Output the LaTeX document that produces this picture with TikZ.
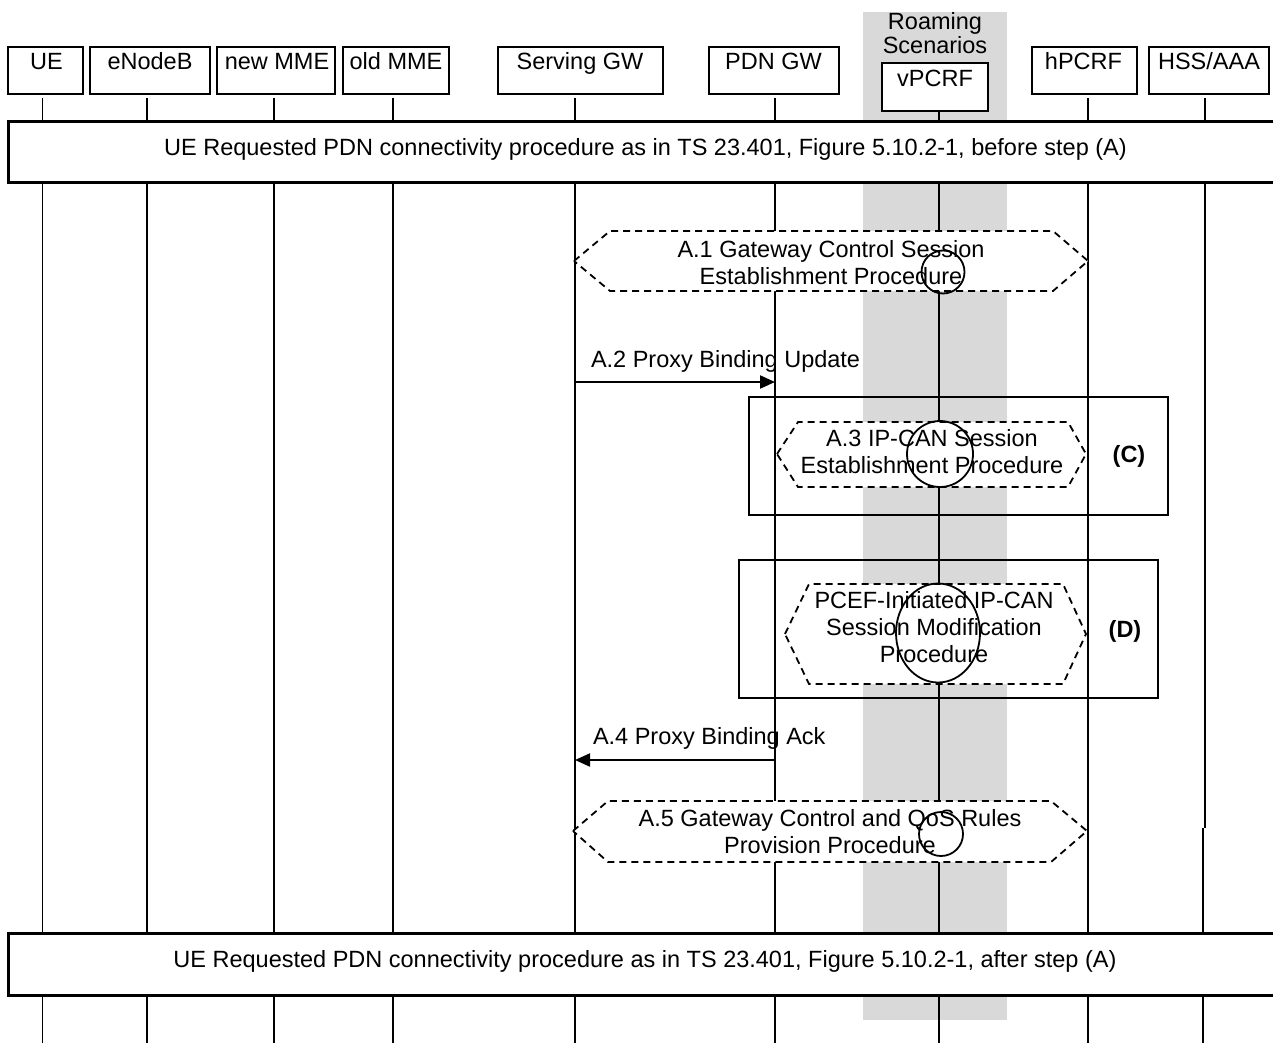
\documentclass[tikz,border=0pt]{standalone}
\usepackage{fontspec}
\setmainfont{Liberation Sans}
\usetikzlibrary{arrows.meta}
\definecolor{bandgray}{RGB}{217,217,217}

\begin{document}
\begin{tikzpicture}[x=1pt,y=-1pt,
  every node/.style={font=\fontsize{23.5}{27}\selectfont, inner sep=0pt, outer sep=0pt},
  entity/.style={draw, line width=2.5pt, fill=white},
  lifeline/.style={line width=1.2pt},
  heavyline/.style={line width=2pt},
  frame/.style={draw, line width=3pt, fill=white},
  groupbox/.style={draw, line width=1.8pt},
  proc/.style={draw, line width=1.8pt, dash pattern=on 7pt off 5pt, fill=white},
  ring/.style={draw, line width=1.8pt},
  msg/.style={line width=2.2pt, -{Triangle[length=15pt,width=13pt]}},
  boldlabel/.style={font=\fontsize{23.5}{27}\selectfont\bfseries},
]
\useasboundingbox (0,0) rectangle (1273,1043);

% shaded column for the roaming case
\fill[bandgray] (863,12) rectangle (1007,1020);

% row positions
\coordinate (bot) at (0,1043);
\coordinate (r2) at (0,382);
\coordinate (r4) at (0,760);
\coordinate (thk) at (0,828);
\coordinate (fb) at (0,933);

% lifelines
\coordinate (ue-l) at (42.5,98);
\coordinate (enb-l) at (147,98);
\coordinate (nmme-l) at (274,98);
\coordinate (omme-l) at (393,98);
\coordinate (sgw-l) at (575,98);
\coordinate (pgw-l) at (775,98);
\coordinate (vpcrf-l) at (939,111);
\coordinate (hpcrf-l) at (1088,98);
\coordinate (hss-l) at (1205,98);
\coordinate (hss-m) at (1203,828);

\draw[lifeline] (ue-l) -- (ue-l |- bot);
\draw[lifeline] (enb-l) -- (enb-l |- bot);
\draw[heavyline] (nmme-l) -- (nmme-l |- bot);
\draw[lifeline] (omme-l) -- (omme-l |- bot);
\draw[lifeline] (sgw-l) -- (sgw-l |- bot);
\draw[lifeline] (pgw-l) -- (pgw-l |- bot);
\draw[lifeline] (vpcrf-l) -- (vpcrf-l |- bot);
\draw[lifeline] (hpcrf-l) -- (hpcrf-l |- bot);
\draw[heavyline] (hpcrf-l |- thk) -- (hpcrf-l |- fb);
\draw[lifeline] (hss-l) -- (hss-l |- thk);
\draw[heavyline] (hss-m) -- (hss-m |- fb);
\draw[lifeline] (hss-m |- fb) -- (hss-m |- bot);

% participants
\node[entity, minimum width=75pt, minimum height=47pt] (ue) at (45.5,70.5) {};
\node[entity, minimum width=120pt, minimum height=47pt] (enb) at (150,70.5) {};
\node[entity, minimum width=118pt, minimum height=47pt] (nmme) at (276,70.5) {};
\node[entity, minimum width=106pt, minimum height=47pt] (omme) at (396,70.5) {};
\node[entity, minimum width=165pt, minimum height=47pt] (sgw) at (580.5,70.5) {};
\node[entity, minimum width=130pt, minimum height=47pt] (pgw) at (774,70.5) {};
\node[entity, minimum width=106pt, minimum height=48pt] (vpcrf) at (935,87) {};
\node[entity, minimum width=105pt, minimum height=47pt] (hpcrf) at (1084.5,70.5) {};
\node[entity, minimum width=120pt, minimum height=47pt] (hss) at (1209,70.5) {};

\node[anchor=base] (ue-t) at (46.5,70) {UE};
\node[anchor=base] (enb-t) at (150,70) {eNodeB};
\node[anchor=base] (nmme-t) at (277,70) {new MME};
\node[anchor=base] (omme-t) at (396,70) {old MME};
\node[anchor=base] (sgw-t) at (580,70) {Serving GW};
\node[anchor=base] (pgw-t) at (773.5,70) {PDN GW};
\node[anchor=base] (vpcrf-t) at (935,87) {vPCRF};
\node[anchor=base] (hpcrf-t) at (1083.5,70) {hPCRF};
\node[anchor=base] (hss-t) at (1209,70) {HSS/AAA};
\node[anchor=base] (roam1) at (935,30) {Roaming};
\node[anchor=base] (roam2) at (935,54) {Scenarios};

% surrounding procedure frames
\node[frame, anchor=north west, minimum width=1290pt, minimum height=61pt] (pre) at (8,122) {};
\node[anchor=base] (pre-t) at (645.5,156) {UE Requested PDN connectivity procedure as in TS 23.401, Figure 5.10.2-1, before step (A)};
\node[frame, anchor=north west, minimum width=1290pt, minimum height=62pt] (post) at (8,933) {};
\node[anchor=base] (post-t) at (645,967) {UE Requested PDN connectivity procedure as in TS 23.401, Figure 5.10.2-1, after step (A)};

% grouping boxes
\draw[groupbox] (749,397) rectangle (1168,515);
\node[boldlabel] (c-t) at (1129,456) {(C)};
\draw[groupbox] (739,560) rectangle (1158,698);
\node[boldlabel] (d-t) at (1125,631) {(D)};

% A.1
\path[proc] (574,261) -- (610,231) -- (1053,231) -- (1088,261) -- (1053,291) -- (610,291) -- cycle;
\node[align=center] (a1) at (831,262.5) {A.1 Gateway Control Session\\Establishment Procedure};
\draw[ring] (943,272) circle[radius=21.5pt];

% A.2
\draw[msg] (sgw-l |- r2) -- (pgw-l |- r2);
\node[anchor=base west] (a2) at (591,367) {A.2 Proxy Binding Update};

% A.3
\path[proc] (777,454) -- (798,422) -- (1068,422) -- (1086,454) -- (1068,487) -- (798,487) -- cycle;
\node[align=center] (a3) at (932,451.5) {A.3 IP-CAN Session\\Establishment Procedure};
\draw[ring] (940,454) circle[radius=33pt];

% PCEF-initiated modification
\path[proc] (785,634) -- (809,584) -- (1063,584) -- (1086,634) -- (1063,684) -- (809,684) -- cycle;
\node[align=center] (pcef) at (934,627.5) {PCEF-Initiated IP-CAN\\Session Modification\\Procedure};
\draw[ring] (938,633) ellipse[x radius=42pt, y radius=49.5pt];

% A.4
\draw[msg] (pgw-l |- r4) -- (sgw-l |- r4);
\node[anchor=base west] (a4) at (593,744) {A.4 Proxy Binding Ack};

% A.5
\path[proc] (573,831) -- (608,801) -- (1051,801) -- (1087,831) -- (1051,862) -- (608,862) -- cycle;
\node[align=center] (a5) at (830,831.5) {A.5 Gateway Control and QoS Rules\\Provision Procedure};
\draw[ring] (941,834) circle[radius=22pt];

\end{tikzpicture}
\end{document}
